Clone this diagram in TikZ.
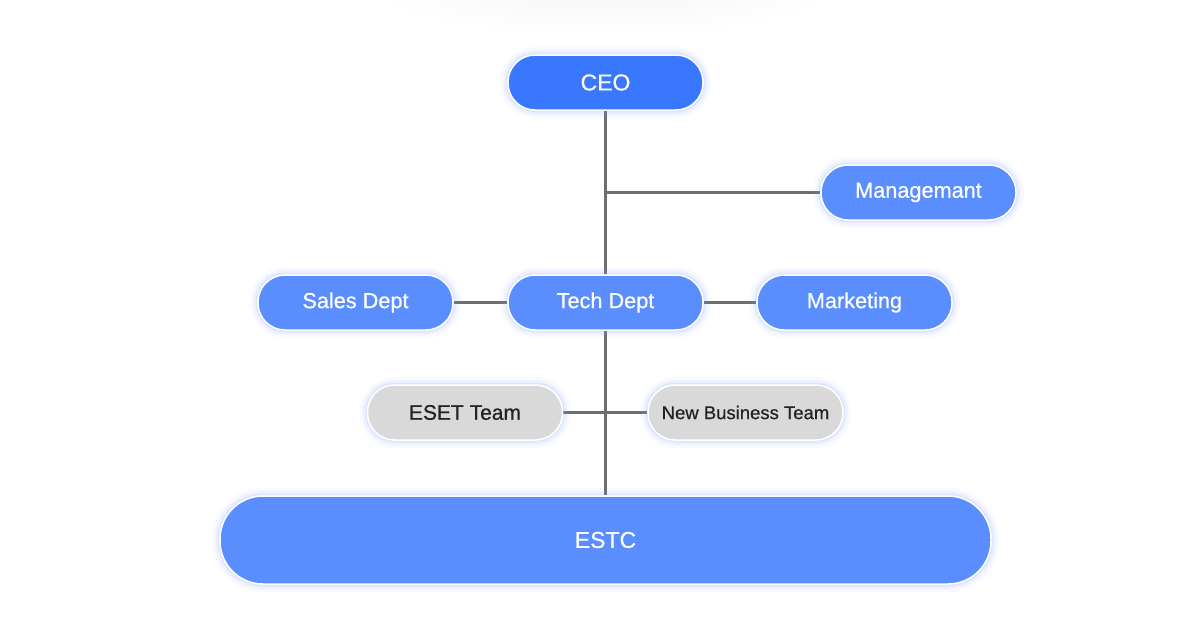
\documentclass[tikz,border=0pt]{standalone}
\usepackage{fontspec}
\setmainfont{Liberation Sans}[BoldFont={Liberation Sans}, BoldFeatures={FakeBold=0.6}]
\usetikzlibrary{backgrounds}
\definecolor{ceoblue}{HTML}{3A77FF}
\definecolor{nodeblue}{HTML}{5A8DFE}
\definecolor{nodegray}{HTML}{D9D9D9}
\definecolor{glowc}{HTML}{7F9FFF}
\definecolor{linegray}{HTML}{6E6E6E}
\definecolor{darktext}{HTML}{222222}
\tikzset{
  glow/.style={
    preaction={draw=glowc, line width=16pt, opacity=0.05},
    preaction={draw=glowc, line width=10pt, opacity=0.08},
    preaction={draw=glowc, line width=5pt, opacity=0.14}},
  pill/.style={glow, draw=white, line width=1.5pt, rectangle, rounded corners=27pt,
    minimum width=195pt, minimum height=55pt, inner sep=0pt, text=white, font=\bfseries\fontsize{21.7}{26}\selectfont},
  bluepill/.style={pill, fill=nodeblue},
  graypill/.style={pill, fill=nodegray, text=darktext},
  conn/.style={draw=linegray, line width=2.5pt}
}
\begin{document}
\begin{tikzpicture}[x=1pt, y=-1pt]
\useasboundingbox (0,0) rectangle (1200,640);
\node[pill, fill=ceoblue, font=\bfseries\fontsize{23}{28}\selectfont] (ceo) at (605.5,82.5) {CEO};
\node[bluepill] (mgmt) at (918.5,192.5) {Managemant};
\node[bluepill] (sales) at (355.5,302.5) {Sales Dept};
\node[bluepill] (tech) at (605.5,302.5) {Tech Dept};
\node[bluepill] (mkt) at (854.5,302.5) {Marketing};
\node[graypill, font=\bfseries\fontsize{21}{25}\selectfont] (eset) at (465,412.5) {ESET Team};
\node[graypill, font=\bfseries\fontsize{18.5}{22}\selectfont] (nbt) at (745.5,412.5) {New Business Team};
\node[bluepill, minimum width=771pt, minimum height=88pt, rounded corners=43pt, font=\bfseries\fontsize{23}{28}\selectfont] (estc) at (605.5,540) {ESTC};
\coordinate (j1) at (ceo.south |- mgmt.west);
\begin{scope}[on background layer]
\fill[white] (0,0) rectangle (1200,640);
\begin{scope}
\clip (0,0) rectangle (1200,640);
\shade[inner color=black!4, outer color=white] (605,-10) ellipse (230pt and 45pt);
\end{scope}
\draw[conn] (ceo.south) -- (tech.north);
\draw[conn] (j1) -- (mgmt.west);
\draw[conn] (sales.east) -- (tech.west);
\draw[conn] (tech.east) -- (mkt.west);
\draw[conn] (tech.south) -- (estc.north);
\draw[conn] (eset.east) -- (nbt.west);
\end{scope}
\end{tikzpicture}
\end{document}
